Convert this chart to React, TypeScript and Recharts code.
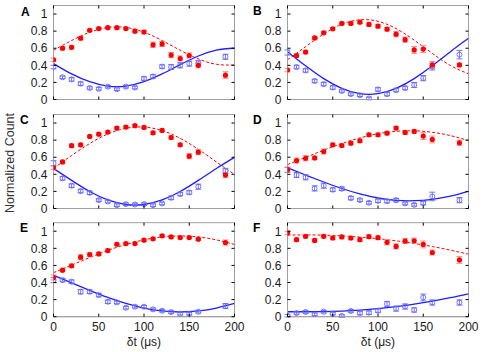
import React from "react";
import { ComposedChart, Line, Scatter, ErrorBar, XAxis, YAxis, ReferenceArea } from "recharts";

const dt = [0, 10, 20, 30, 40, 50, 60, 70, 80, 90, 100, 110, 120, 130, 140, 150, 160, 190];
const fitT = [0, 20, 40, 60, 80, 100, 120, 140, 160, 180, 200];
const xTicks = [0, 50, 100, 150, 200];
const yTicks = [0, 0.2, 0.4, 0.6, 0.8, 1];

// panel A
const aRed = [0.465, 0.6, 0.61, 0.717, 0.81, 0.83, 0.84, 0.84, 0.83, 0.8, 0.79, 0.64, 0.65, 0.52, 0.48, 0.515, 0.4, 0.285];
const aRedErr = [0.02, 0.02, 0.02, 0.02, 0.015, 0.015, 0.015, 0.015, 0.015, 0.02, 0.02, 0.03, 0.03, 0.03, 0.03, 0.03, 0.03, 0.04];
const aBlue = [0.38, 0.26, 0.235, 0.185, 0.135, 0.125, 0.15, 0.12, 0.15, 0.14, 0.245, 0.27, 0.385, 0.38, 0.4, 0.42, 0.425, 0.5];
const aBlueErr = [0.02, 0.015, 0.02, 0.02, 0.015, 0.015, 0.015, 0.015, 0.015, 0.015, 0.02, 0.02, 0.02, 0.03, 0.03, 0.03, 0.03, 0.03];
const aRedFit = [0.576, 0.69, 0.787, 0.843, 0.843, 0.787, 0.69, 0.576, 0.475, 0.412, 0.404];
const aBlueFit = [0.42, 0.299, 0.208, 0.157, 0.157, 0.208, 0.299, 0.408, 0.509, 0.578, 0.6];

// panel B
const bRed = [0.345, 0.515, 0.555, 0.72, 0.78, 0.827, 0.89, 0.89, 0.905, 0.878, 0.858, 0.823, 0.764, 0.7, 0.58, 0.59, 0.405, 0.405];
const bRedErr = [0.02, 0.02, 0.02, 0.02, 0.02, 0.015, 0.015, 0.015, 0.015, 0.02, 0.02, 0.02, 0.03, 0.03, 0.04, 0.04, 0.04, 0.02];
const bBlue = [0.55, 0.38, 0.34, 0.217, 0.18, 0.14, 0.1, 0.063, 0.05, 0.012, 0.118, 0.063, 0.11, 0.134, 0.17, 0.25, 0.385, 0.525];
const bBlueErr = [0.03, 0.02, 0.02, 0.02, 0.02, 0.02, 0.015, 0.015, 0.015, 0.015, 0.02, 0.02, 0.02, 0.02, 0.03, 0.03, 0.04, 0.05];
const bRedFit = [0.465, 0.618, 0.767, 0.88, 0.933, 0.915, 0.83, 0.695, 0.54, 0.398, 0.3];
const bBlueFit = [0.56, 0.394, 0.244, 0.13, 0.068, 0.068, 0.13, 0.244, 0.394, 0.56, 0.717];

// panel C
const cRed = [0.478, 0.545, 0.735, 0.745, 0.843, 0.87, 0.894, 0.941, 0.953, 0.969, 0.949, 0.886, 0.914, 0.831, 0.745, 0.612, 0.659, 0.392];
const cRedErr = [0.02, 0.02, 0.02, 0.02, 0.015, 0.015, 0.015, 0.015, 0.015, 0.015, 0.015, 0.02, 0.015, 0.02, 0.02, 0.03, 0.03, 0.03];
const cBlue = [0.53, 0.353, 0.267, 0.204, 0.184, 0.098, 0.082, 0.039, 0.051, 0.047, 0.051, 0.039, 0.059, 0.125, 0.169, 0.188, 0.255, 0.44];
const cBlueErr = [0.03, 0.02, 0.02, 0.02, 0.02, 0.015, 0.015, 0.015, 0.015, 0.015, 0.015, 0.015, 0.015, 0.02, 0.02, 0.02, 0.03, 0.03];
const cRedFit = [0.47, 0.62, 0.76, 0.872, 0.939, 0.953, 0.912, 0.821, 0.693, 0.545, 0.398];
const cBlueFit = [0.469, 0.329, 0.199, 0.1, 0.047, 0.047, 0.1, 0.199, 0.329, 0.469, 0.599];

// panel D
const dRed = [0.455, 0.561, 0.588, 0.592, 0.667, 0.745, 0.737, 0.765, 0.792, 0.863, 0.863, 0.882, 0.941, 0.89, 0.902, 0.847, 0.808, 0.769];
const dRedErr = [0.03, 0.03, 0.03, 0.02, 0.03, 0.02, 0.02, 0.02, 0.02, 0.02, 0.02, 0.02, 0.02, 0.02, 0.02, 0.04, 0.04, 0.03];
const dBlue = [0.451, 0.392, 0.365, 0.235, 0.267, 0.22, 0.231, 0.122, 0.098, 0.067, 0.09, 0.086, 0.098, 0.059, 0.043, 0.063, 0.141, 0.098];
const dBlueErr = [0.03, 0.03, 0.03, 0.03, 0.03, 0.02, 0.02, 0.02, 0.015, 0.015, 0.02, 0.02, 0.02, 0.015, 0.015, 0.02, 0.05, 0.03];
const dRedFit = [0.514, 0.598, 0.682, 0.76, 0.826, 0.875, 0.903, 0.909, 0.892, 0.853, 0.795];
const dBlueFit = [0.475, 0.392, 0.31, 0.234, 0.171, 0.123, 0.096, 0.091, 0.107, 0.145, 0.201];

// panel E
const eRed = [0.459, 0.545, 0.595, 0.696, 0.728, 0.735, 0.774, 0.848, 0.856, 0.856, 0.895, 0.911, 0.946, 0.934, 0.926, 0.926, 0.907, 0.868];
const eRedErr = [0.03, 0.02, 0.02, 0.03, 0.02, 0.02, 0.02, 0.015, 0.015, 0.015, 0.015, 0.015, 0.015, 0.015, 0.015, 0.015, 0.015, 0.03];
const eBlue = [0.428, 0.428, 0.409, 0.292, 0.292, 0.253, 0.175, 0.167, 0.105, 0.117, 0.117, 0.086, 0.07, 0.054, 0.035, 0.035, 0.058, 0.125];
const eBlueErr = [0.03, 0.02, 0.02, 0.025, 0.02, 0.02, 0.02, 0.015, 0.015, 0.015, 0.015, 0.015, 0.015, 0.015, 0.015, 0.015, 0.015, 0.03];
const eRedFit = [0.515, 0.604, 0.692, 0.775, 0.845, 0.899, 0.933, 0.945, 0.933, 0.899, 0.845];
const eBlueFit = [0.485, 0.396, 0.308, 0.225, 0.155, 0.101, 0.067, 0.055, 0.067, 0.101, 0.155];

// panel F
const fRed = [0.98, 0.901, 0.941, 0.893, 0.941, 0.921, 0.933, 0.921, 0.901, 0.937, 0.925, 0.87, 0.822, 0.885, 0.889, 0.846, 0.751, 0.664];
const fRedErr = [0.02, 0.02, 0.02, 0.02, 0.02, 0.02, 0.02, 0.02, 0.02, 0.02, 0.02, 0.03, 0.03, 0.03, 0.03, 0.04, 0.03, 0.04];
const fBlue = [0.012, 0.043, 0.055, 0.028, 0.059, 0.036, 0.008, 0.067, 0.043, 0.047, 0.071, 0.15, 0.095, 0.119, 0.079, 0.225, 0.166, 0.166];
const fBlueErr = [0.015, 0.015, 0.015, 0.015, 0.015, 0.015, 0.015, 0.015, 0.02, 0.02, 0.02, 0.03, 0.03, 0.03, 0.025, 0.04, 0.03, 0.03];
const fRedFit = [0.955, 0.957, 0.954, 0.946, 0.932, 0.913, 0.888, 0.857, 0.821, 0.779, 0.732];
const fBlueFit = [0.058, 0.058, 0.06, 0.066, 0.078, 0.095, 0.118, 0.148, 0.183, 0.223, 0.268];

const RED = "#ff0000";
const RED_ERR = "#ff8c8c";
const BLUE_LINE = "#1e1eff";
const BLUE_PT = "#6666ff";
const FRAME = "#a0a0a0";
const FONT = "'Liberation Sans', Arial, Helvetica, sans-serif";
const TICK_LEN = 3;
const CHART_W = 252;

const pts = (ys: number[], errs: number[]) => dt.map((x, i) => ({ x, y: ys[i], err: errs[i] }));
const fit = (ys: number[]) => fitT.map((x, i) => ({ x, y: ys[i] }));

const RedDot = (p: any) => <circle cx={p.cx} cy={p.cy} r={2.6} fill={RED} />;
const BlueRing = (p: any) => (
  <circle cx={p.cx} cy={p.cy} r={2.5} fill="none" stroke={BLUE_PT} strokeWidth={0.9} />
);

// x tick: inward marks on bottom and top frame, optional label
const XTick = (p: any) => {
  const { x, y, payload, plotTop, plotBottom, show } = p;
  return (
    <g>
      <line x1={x} x2={x} y1={plotBottom} y2={plotBottom - TICK_LEN} stroke="#000" />
      <line x1={x} x2={x} y1={plotTop} y2={plotTop + TICK_LEN} stroke="#000" />
      {show && (
        <text x={x} y={y} dy="0.71em" textAnchor="middle" fontSize={12} fill="#1a1a1a" fontFamily={FONT}>
          {payload.value}
        </text>
      )}
    </g>
  );
};

// y tick: inward marks on left and right frame, label
const YTick = (p: any) => {
  const { x, y, payload, plotLeft, plotRight } = p;
  return (
    <g>
      <line x1={plotLeft} x2={plotLeft + TICK_LEN} y1={y} y2={y} stroke="#000" />
      <line x1={plotRight} x2={plotRight - TICK_LEN} y1={y} y2={y} stroke="#000" />
      <text x={x} y={y} dy="0.355em" textAnchor="end" fontSize={12} fill="#1a1a1a" fontFamily={FONT}>
        {payload.value}
      </text>
    </g>
  );
};

interface PanelProps {
  red: number[];
  redErr: number[];
  blue: number[];
  blueErr: number[];
  redFit: number[];
  blueFit: number[];
  left: number;
  top: number;
  height: number;
  yWidth: number;
  mTop: number;
  mRight: number;
  xHeight: number;
  bottomRow: boolean;
}

const Panel: React.FC<PanelProps> = (p) => {
  const plotTop = p.mTop;
  const plotBottom = p.height - p.xHeight;
  const plotLeft = p.yWidth;
  const plotRight = CHART_W - p.mRight;
  return (
    <div style={{ position: "absolute", left: p.left, top: p.top }}>
      <ComposedChart
        width={CHART_W}
        height={p.height}
        margin={{ top: p.mTop, right: p.mRight, bottom: 0, left: 0 }}
      >
        <XAxis
          dataKey="x"
          type="number"
          domain={[0, 200]}
          ticks={xTicks}
          allowDataOverflow
          interval={0}
          height={p.xHeight}
          axisLine={{ stroke: FRAME }}
          tickLine={false}
          tickSize={4}
          tickMargin={2}
          tick={(tp: any) => <XTick {...tp} plotTop={plotTop} plotBottom={plotBottom} show={p.bottomRow} />}
          label={
            p.bottomRow
              ? { value: "δt (μs)", position: "insideBottom", offset: 6, style: { fontSize: 12, fill: "#1a1a1a", fontFamily: FONT } }
              : undefined
          }
        />
        <YAxis
          dataKey="y"
          type="number"
          domain={[0, 1.1]}
          ticks={yTicks}
          allowDataOverflow
          interval={0}
          width={p.yWidth}
          axisLine={{ stroke: FRAME }}
          tickLine={false}
          tickSize={4}
          tickMargin={2}
          tick={(tp: any) => <YTick {...tp} plotLeft={plotLeft} plotRight={plotRight} />}
        />
        <ReferenceArea x1={0} x2={200} y1={0} y2={1.1} fill="none" stroke={FRAME} strokeWidth={1} ifOverflow="visible" />
        <Line
          data={fit(p.redFit)}
          dataKey="y"
          type="natural"
          stroke={RED}
          strokeWidth={1}
          strokeDasharray="3 2"
          dot={false}
          activeDot={false}
          isAnimationActive={false}
        />
        <Line
          data={fit(p.blueFit)}
          dataKey="y"
          type="natural"
          stroke={BLUE_LINE}
          strokeWidth={1.3}
          dot={false}
          activeDot={false}
          isAnimationActive={false}
        />
        <Scatter data={pts(p.blue, p.blueErr)} shape={BlueRing} isAnimationActive={false}>
          <ErrorBar dataKey="err" direction="y" width={3} stroke={BLUE_PT} strokeWidth={0.9} />
        </Scatter>
        <Scatter data={pts(p.red, p.redErr)} shape={RedDot} isAnimationActive={false}>
          <ErrorBar dataKey="err" direction="y" width={3} stroke={RED_ERR} strokeWidth={1} />
        </Scatter>
      </ComposedChart>
    </div>
  );
};

const letterStyle = (left: number, top: number): React.CSSProperties => ({
  position: "absolute",
  left,
  top,
  fontFamily: FONT,
  fontWeight: "bold",
  fontSize: 12,
  color: "#000",
  lineHeight: "12px",
});

export default function App() {
  const row = [
    { top: 0, height: 110, mTop: 5.5, xHeight: 10.5, bottomRow: false },
    { top: 110, height: 110, mTop: 4.5, xHeight: 11.5, bottomRow: false },
    { top: 220, height: 132, mTop: 2.7, xHeight: 35.3, bottomRow: true },
  ];
  const leftCol = { left: 0, yWidth: 53.5, mRight: CHART_W - 234.5 };
  const rightCol = { left: 242, yWidth: 45.5, mRight: CHART_W - 226.5 };
  return (
    <div style={{ position: "absolute", left: 0, top: 0, width: 484, height: 352, background: "#fff", overflow: "hidden" }}>
      <Panel red={aRed} redErr={aRedErr} blue={aBlue} blueErr={aBlueErr} redFit={aRedFit} blueFit={aBlueFit} {...row[0]} {...leftCol} />
      <Panel red={bRed} redErr={bRedErr} blue={bBlue} blueErr={bBlueErr} redFit={bRedFit} blueFit={bBlueFit} {...row[0]} {...rightCol} />
      <Panel red={cRed} redErr={cRedErr} blue={cBlue} blueErr={cBlueErr} redFit={cRedFit} blueFit={cBlueFit} {...row[1]} {...leftCol} />
      <Panel red={dRed} redErr={dRedErr} blue={dBlue} blueErr={dBlueErr} redFit={dRedFit} blueFit={dBlueFit} {...row[1]} {...rightCol} />
      <Panel red={eRed} redErr={eRedErr} blue={eBlue} blueErr={eBlueErr} redFit={eRedFit} blueFit={eBlueFit} {...row[2]} {...leftCol} />
      <Panel red={fRed} redErr={fRedErr} blue={fBlue} blueErr={fBlueErr} redFit={fRedFit} blueFit={fBlueFit} {...row[2]} {...rightCol} />
      <div style={letterStyle(21, 6)}>A</div>
      <div style={letterStyle(253, 5)}>B</div>
      <div style={letterStyle(20, 114)}>C</div>
      <div style={letterStyle(253, 114)}>D</div>
      <div style={letterStyle(20, 222)}>E</div>
      <div style={letterStyle(253, 222)}>F</div>
      <div
        style={{
          position: "absolute",
          left: 10,
          top: 163,
          transform: "translate(-50%, -50%) rotate(-90deg)",
          fontFamily: FONT,
          fontSize: 12.5,
          color: "#333",
          whiteSpace: "nowrap",
        }}
      >
        Normalized Count
      </div>
    </div>
  );
}
